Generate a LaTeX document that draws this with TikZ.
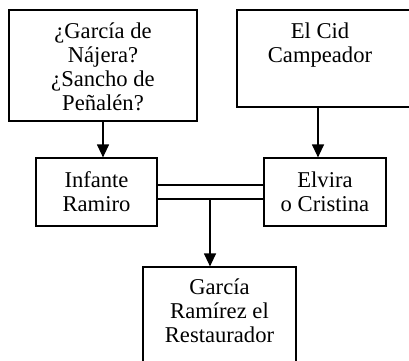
\documentclass[tikz,border=0pt]{standalone}
\usepackage{fontspec}
\setmainfont{Liberation Serif}
\usetikzlibrary{arrows.meta}
\begin{document}
\begin{tikzpicture}[x=1pt,y=-1pt,
  box/.style={draw, line width=1.2pt, rectangle, inner sep=0pt},
  txt/.style={anchor=north, align=center, inner sep=0pt, font=\fontsize{22.6}{24}\selectfont},
  conn/.style={line width=1.2pt, -{Triangle[length=13pt,width=12pt]}},
  dbl/.style={line width=1.2pt}]
\useasboundingbox (0,0) rectangle (409,360);
\fill[white] (0,0) rectangle (409,360);
\clip (0,0) rectangle (409,360);
\node[box, minimum width=188pt, minimum height=111pt] (b1) at (103,65.5) {};
\node[box, minimum width=175pt, minimum height=97pt] (b2) at (324.5,58.5) {};
\node[box, minimum width=121pt, minimum height=68pt] (inf) at (96.5,192) {};
\node[box, minimum width=122pt, minimum height=68pt] (elv) at (325,192) {};
\node[box, minimum width=153pt, minimum height=118pt] (gar) at (219.5,326) {};
\node[txt] (t1) at (103,23) {¿García de\\Nájera?\\¿Sancho de\\Peñalén?};
\node[txt] (t2) at (320,23) {El Cid\\Campeador};
\node[txt, anchor=center] (t3) at (96.5,192) {Infante\\Ramiro};
\node[txt, anchor=center] (t4) at (325,192) {Elvira\\o Cristina};
\node[txt] (t5) at (219.5,279) {García\\Ramírez el\\Restaurador};
\coordinate (m) at (210,199);
\draw[conn] (b1.south -| 103,0) -- (inf.north -| 103,0);
\draw[conn] (b2.south -| 318,0) -- (elv.north -| 318,0);
\draw[dbl] ([yshift=7pt]inf.east) -- ([yshift=7pt]elv.west);
\draw[dbl] ([yshift=-7pt]inf.east) -- ([yshift=-7pt]elv.west);
\draw[conn] (m) -- (gar.north -| m);
\end{tikzpicture}
\end{document}
